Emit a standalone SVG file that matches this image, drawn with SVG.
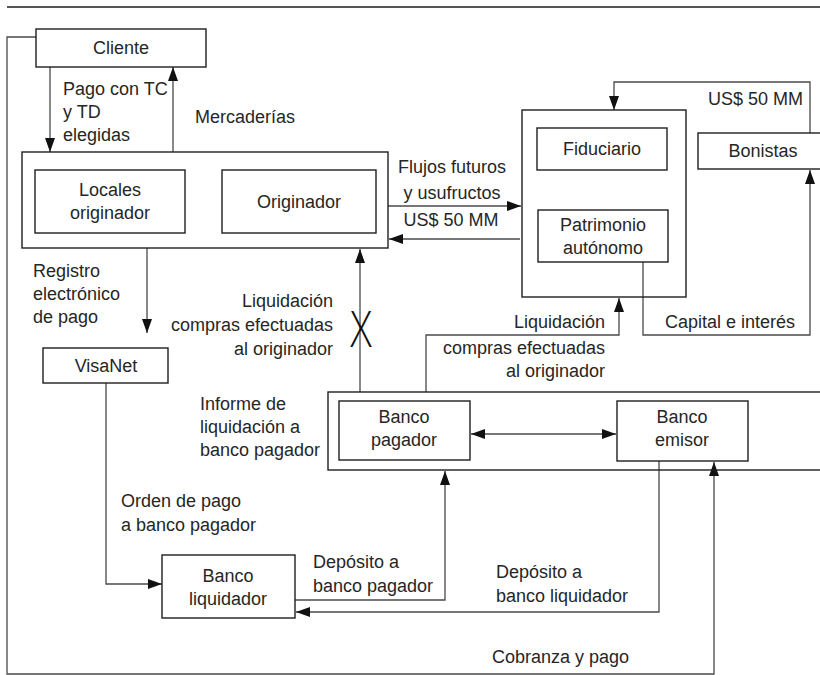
<svg xmlns="http://www.w3.org/2000/svg" width="820" height="675" viewBox="0 0 820 675">
  <style>
    text { font-family: "Liberation Sans", Arial, sans-serif; font-size: 18px; fill: #262626; }
    .box { fill: #fff; stroke: #1e1e1e; stroke-width: 1.4; }
    .grp { fill: none; stroke: #1e1e1e; stroke-width: 1.4; }
    .ln { fill: none; stroke: #4a4a4a; stroke-width: 1.3; }
    .mid { text-anchor: middle; }
    .end { text-anchor: end; }
    .cross { font-family: "Open Sans", "Liberation Sans", sans-serif; font-weight: 300; font-size: 50px; fill: #111; }
  </style>
  <defs>
    <marker id="arr" viewBox="0 0 14 10" refX="14" refY="5" markerWidth="14" markerHeight="10" orient="auto-start-reverse" markerUnits="userSpaceOnUse">
      <path d="M0,0 L14,5 L0,10 Z" fill="#111"/>
    </marker>
  </defs>

  <!-- header rule -->
  <line x1="7" y1="7" x2="820" y2="7" stroke="#1e1e1e" stroke-width="1.6"/>

  <!-- connectors -->
  <g id="connectors">
    <!-- Cliente -> Cobranza y pago loop -->
    <polyline class="ln" points="36,37 7,37 7,674 714,674 714,462" marker-end="url(#arr)"/>
    <!-- Pago con TC y TD -->
    <line class="ln" x1="50" y1="67" x2="50" y2="152" marker-end="url(#arr)"/>
    <!-- Mercaderias -->
    <line class="ln" x1="173" y1="152" x2="173" y2="67" marker-end="url(#arr)"/>
    <!-- Flujos futuros -->
    <line class="ln" x1="388" y1="206" x2="521" y2="206" marker-end="url(#arr)"/>
    <!-- US$ 50 MM back to originador -->
    <line class="ln" x1="520" y1="239" x2="389" y2="239" marker-end="url(#arr)"/>
    <!-- Bonistas -> fideicomiso -->
    <polyline class="ln" points="810,133 810,82 614,82 614,110" marker-end="url(#arr)"/>
    <!-- Capital e interes -->
    <polyline class="ln" points="643,262 643,335 810,335 810,170" marker-end="url(#arr)"/>
    <!-- Liquidacion to fideicomiso -->
    <polyline class="ln" points="426,392 426,335 619,335 619,298" marker-end="url(#arr)"/>
    <!-- Liquidacion to originador (cancelled) -->
    <line class="ln" x1="360" y1="392" x2="360" y2="249" marker-end="url(#arr)"/>
    <!-- Registro electronico de pago -->
    <line class="ln" x1="147" y1="248" x2="147" y2="333" marker-end="url(#arr)"/>
    <!-- Orden de pago -->
    <polyline class="ln" points="106,383 106,584 162,584" marker-end="url(#arr)"/>
    <!-- Deposito a banco pagador -->
    <polyline class="ln" points="295,600 445,600 445,471" marker-end="url(#arr)"/>
    <!-- Deposito a banco liquidador -->
    <polyline class="ln" points="659,461 659,612 296,612" marker-end="url(#arr)"/>
    <!-- pagador <-> emisor -->
    <line class="ln" x1="471" y1="434" x2="616" y2="434" marker-start="url(#arr)" marker-end="url(#arr)"/>
  </g>

  <!-- nodes -->
  <g id="cliente">
    <rect class="box" x="36" y="29" width="170" height="38"/>
    <text class="mid" x="121" y="54">Cliente</text>
  </g>

  <g id="grupo-originador">
    <rect class="grp" x="22" y="152" width="366" height="96"/>
  </g>
  <g id="locales">
    <rect class="box" x="35" y="170" width="150" height="63"/>
    <text class="mid" x="110" y="196">Locales</text>
    <text class="mid" x="110" y="219">originador</text>
  </g>
  <g id="originador">
    <rect class="box" x="222" y="170" width="154" height="63"/>
    <text class="mid" x="299" y="208">Originador</text>
  </g>

  <g id="fideicomiso">
    <rect class="grp" x="522" y="110" width="164" height="187"/>
  </g>
  <g id="fiduciario">
    <rect class="box" x="537" y="128" width="130" height="42"/>
    <text class="mid" x="602" y="155">Fiduciario</text>
  </g>
  <g id="patrimonio">
    <rect class="box" x="538" y="210" width="130" height="52"/>
    <text class="mid" x="603" y="231">Patrimonio</text>
    <text class="mid" x="603" y="254">autónomo</text>
  </g>

  <g id="bonistas">
    <rect class="box" x="698" y="133" width="130" height="36"/>
    <text class="mid" x="763" y="157">Bonistas</text>
  </g>

  <g id="visanet">
    <rect class="box" x="43" y="348" width="125" height="35"/>
    <text class="mid" x="106" y="372">VisaNet</text>
  </g>

  <g id="grupo-bancos">
    <rect class="grp" x="328" y="392" width="500" height="78"/>
  </g>
  <g id="banco-pagador">
    <rect class="box" x="339" y="401" width="131" height="59"/>
    <text class="mid" x="404" y="423">Banco</text>
    <text class="mid" x="404" y="446">pagador</text>
  </g>
  <g id="banco-emisor">
    <rect class="box" x="617" y="401" width="131" height="60"/>
    <text class="mid" x="682" y="423">Banco</text>
    <text class="mid" x="682" y="446">emisor</text>
  </g>

  <g id="banco-liquidador">
    <rect class="box" x="162" y="555" width="133" height="63"/>
    <text class="mid" x="228" y="582">Banco</text>
    <text class="mid" x="228" y="605">liquidador</text>
  </g>

  <!-- connector labels -->
  <g id="labels">
    <text x="63" y="95">Pago con TC</text>
    <text x="63" y="118">y TD</text>
    <text x="63" y="141">elegidas</text>
    <text x="195" y="123">Mercaderías</text>

    <text class="mid" x="452" y="173">Flujos futuros</text>
    <text class="mid" x="452" y="199">y usufructos</text>
    <text class="mid" x="451" y="226">US$ 50 MM</text>

    <text class="end" x="803" y="105">US$ 50 MM</text>
    <text x="665" y="328">Capital e interés</text>

    <text class="end" x="605" y="328">Liquidación</text>
    <text class="end" x="605" y="354">compras efectuadas</text>
    <text class="end" x="605" y="377">al originador</text>

    <text class="end" x="333" y="307">Liquidación</text>
    <text class="end" x="333" y="331">compras efectuadas</text>
    <text class="end" x="333" y="355">al originador</text>
    <!-- cancel mark on the originador settlement arrow -->
    <text class="mid cross" transform="translate(361,347) scale(0.8,1)">X</text>

    <text x="33" y="277">Registro</text>
    <text x="33" y="300">electrónico</text>
    <text x="33" y="323">de pago</text>

    <text x="200" y="410">Informe de</text>
    <text x="200" y="433">liquidación a</text>
    <text x="200" y="456">banco pagador</text>

    <text x="121" y="507">Orden de pago</text>
    <text x="121" y="531">a banco pagador</text>

    <text x="313" y="568">Depósito a</text>
    <text x="313" y="592">banco pagador</text>

    <text x="496" y="578">Depósito a</text>
    <text x="496" y="602">banco liquidador</text>

    <text x="492" y="663">Cobranza y pago</text>
  </g>
</svg>
